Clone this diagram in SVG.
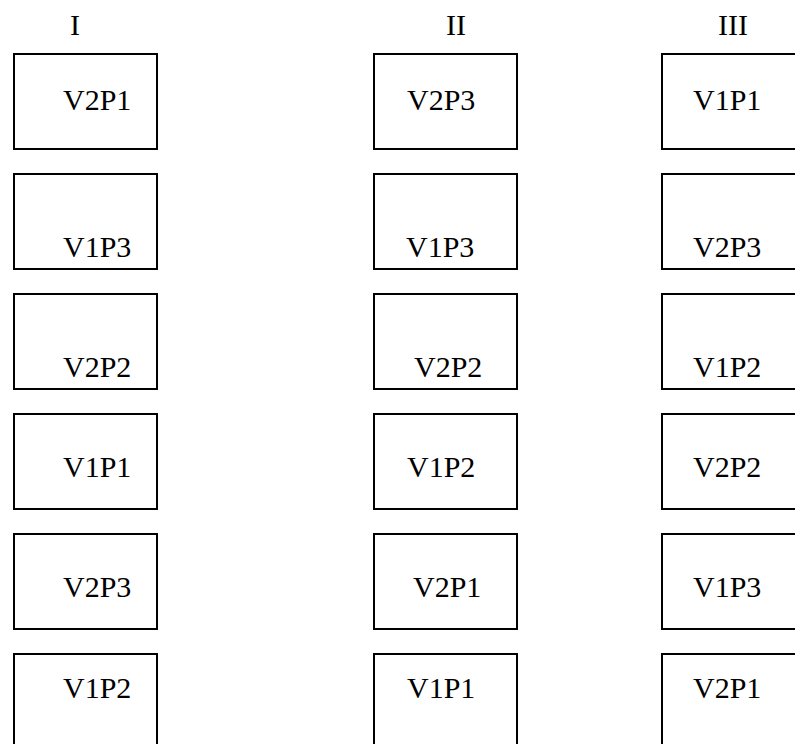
<svg xmlns="http://www.w3.org/2000/svg" width="795" height="744" viewBox="0 0 795 744">
<style>
.b{fill:#fff;stroke:#000;stroke-width:2}
text{font-family:"Liberation Serif","Times New Roman",serif;font-size:30px;fill:#000}
</style>
<rect width="795" height="744" fill="#fff"/>
<g id="headers">
<text x="70" y="35">I</text>
<text x="446" y="35">II</text>
<text x="718" y="35">III</text>
</g>
<g id="colI">
<g id="I1"><rect class="b" x="14" y="54" width="143" height="95"/><text x="63" y="110">V2P1</text></g>
<g id="I2"><rect class="b" x="14" y="174" width="143" height="95"/><text x="63" y="257">V1P3</text></g>
<g id="I3"><rect class="b" x="14" y="294" width="143" height="95"/><text x="63" y="377">V2P2</text></g>
<g id="I4"><rect class="b" x="14" y="414" width="143" height="95"/><text x="63" y="477">V1P1</text></g>
<g id="I5"><rect class="b" x="14" y="534" width="143" height="95"/><text x="63" y="597">V2P3</text></g>
<g id="I6"><rect class="b" x="14" y="654" width="143" height="95"/><text x="63" y="698">V1P2</text></g>
</g>
<g id="colII">
<g id="II1"><rect class="b" x="374" y="54" width="143" height="95"/><text x="407" y="110">V2P3</text></g>
<g id="II2"><rect class="b" x="374" y="174" width="143" height="95"/><text x="406" y="257">V1P3</text></g>
<g id="II3"><rect class="b" x="374" y="294" width="143" height="95"/><text x="414" y="377">V2P2</text></g>
<g id="II4"><rect class="b" x="374" y="414" width="143" height="95"/><text x="407" y="477">V1P2</text></g>
<g id="II5"><rect class="b" x="374" y="534" width="143" height="95"/><text x="413" y="597">V2P1</text></g>
<g id="II6"><rect class="b" x="374" y="654" width="143" height="95"/><text x="407" y="698">V1P1</text></g>
</g>
<g id="colIII">
<g id="III1"><rect class="b" x="662" y="54" width="143" height="95"/><text x="693" y="110">V1P1</text></g>
<g id="III2"><rect class="b" x="662" y="174" width="143" height="95"/><text x="693" y="257">V2P3</text></g>
<g id="III3"><rect class="b" x="662" y="294" width="143" height="95"/><text x="693" y="377">V1P2</text></g>
<g id="III4"><rect class="b" x="662" y="414" width="143" height="95"/><text x="693" y="477">V2P2</text></g>
<g id="III5"><rect class="b" x="662" y="534" width="143" height="95"/><text x="693" y="597">V1P3</text></g>
<g id="III6"><rect class="b" x="662" y="654" width="143" height="95"/><text x="693" y="698">V2P1</text></g>
</g>
</svg>
